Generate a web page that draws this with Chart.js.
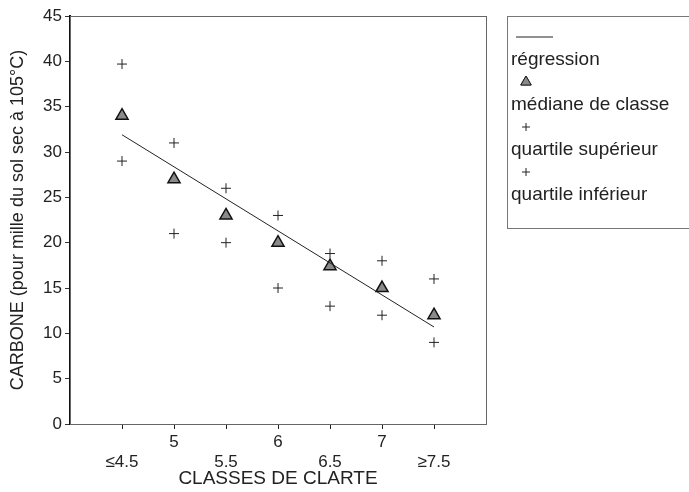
<!DOCTYPE html>
<html>
<head>
<meta charset="utf-8">
<script src="https://cdn.jsdelivr.net/npm/chart.js@4"></script>
<style>
  html, body { margin: 0; padding: 0; background: #fff; }
  #wrap { width: 689px; height: 492px; }
</style>
</head>
<body>
<div id="wrap"><canvas id="myChart" width="689" height="492"></canvas></div>
<script>
// classes de clarte (x) and values
const classes = [4.5, 5, 5.5, 6, 6.5, 7, 7.5];
const classLabels = ["≤4.5", "5", "5.5", "6", "6.5", "7", "≥7.5"];
const medianes = [34, 27, 23, 20, 17.4, 15, 12];
const quartileSup = [39.7, 31, 26, 23, 18.8, 18, 16];
const quartileInf = [29, 21, 20, 15, 13, 12, 9];
const regressionX = [4.5, 7.5];
const regressionY = [31.9, 10.7];
const yTicks = [0, 5, 10, 15, 20, 25, 30, 35, 40, 45];

const FONT = "'Liberation Sans', Arial, sans-serif";

function toPoints(xs, ys) {
  return xs.map((x, i) => ({ x: x, y: ys[i] }));
}

//frame around the plot area
const plotFrame = {
  id: "plotFrame",
  afterDraw(chart) {
    const { ctx, chartArea } = chart;
    ctx.save();
    ctx.strokeStyle = "#666";
    ctx.lineWidth = 1;
    ctx.strokeRect(chartArea.left + 0.5, chartArea.top + 0.5,
      chartArea.right - chartArea.left, chartArea.bottom - chartArea.top);
    ctx.restore();
  },
};

//legend box on the right, symbol above its label
const sideLegend = {
  id: "sideLegend",
  afterDraw(chart) {
    const { ctx } = chart;
    const left = 507, top = 16;
    ctx.save();
    ctx.strokeStyle = "#777";
    ctx.lineWidth = 1;
    ctx.strokeRect(left + 0.5, top + 0.5, 200, 212);
    ctx.font = "19px " + FONT;
    ctx.fillStyle = "#222";
    ctx.textBaseline = "middle";
    chart.data.datasets.forEach((ds, i) => {
      const symY = top + 21 + i * 45;
      const txtY = symY + 23;
      ctx.strokeStyle = "#222";
      ctx.lineWidth = 1;
      if (ds.type === "line") {
        ctx.beginPath();
        ctx.moveTo(left + 9, symY);
        ctx.lineTo(left + 46, symY);
        ctx.stroke();
      } else {
        Chart.helpers.drawPoint(ctx, {
          pointStyle: ds.pointStyle,
          radius: ds.pointStyle === "triangle" ? 6 : 4,
          borderWidth: 1,
        }, left + 19, symY);
        if (ds.pointStyle === "triangle") {
          ctx.fillStyle = ds.backgroundColor;
          ctx.fill();
          ctx.stroke();
          ctx.fillStyle = "#222";
        }
      }
      ctx.fillText(ds.label, left + 4, txtY);
    });
    ctx.restore();
  },
};

var ctx = document.getElementById("myChart").getContext("2d");

var chart = new Chart(ctx, {
  type: "scatter",
  data: {
    datasets: [
      {
        type: "line",
        label: "régression",
        data: toPoints(regressionX, regressionY),
        borderColor: "#222",
        borderWidth: 1,
        pointRadius: 0,
        fill: false,
      },
      {
        label: "médiane de classe",
        data: toPoints(classes, medianes),
        pointStyle: "triangle",
        pointRadius: 7,
        backgroundColor: "#8a8a8a",
        borderColor: "#111",
        borderWidth: 1.5,
      },
      {
        label: "quartile supérieur",
        data: toPoints(classes, quartileSup),
        pointStyle: "cross",
        pointRadius: 5,
        borderColor: "#222",
        borderWidth: 1,
      },
      {
        label: "quartile inférieur",
        data: toPoints(classes, quartileInf),
        pointStyle: "cross",
        pointRadius: 5,
        borderColor: "#222",
        borderWidth: 1,
      },
    ],
  },
  options: {
    responsive: false,
    animation: false,
    layout: {
      padding: { top: 16, right: 203, left: 0, bottom: 0 },
    },
    plugins: {
      legend: { display: false },
      tooltip: { enabled: false },
    },
    scales: {
      x: {
        type: "linear",
        min: 4,
        max: 8,
        afterBuildTicks(scale) {
          scale.ticks = classes.map((v) => ({ value: v }));
        },
        afterFit(scale) {
          scale.height = 68;
        },
        grid: {
          drawOnChartArea: false,
          tickLength: 5,
          color: "#222",
        },
        border: { color: "#444" },
        ticks: {
          color: "#222",
          font: { family: FONT, size: 17, lineHeight: 1.15 },
          padding: 4,
          maxRotation: 0,
          autoSkip: false,
          callback(value) {
            const i = classes.indexOf(value);
            if (i < 0) return "";
            // whole numbers on the first row, the others one row lower
            return Number.isInteger(value) ? classLabels[i] : ["", classLabels[i]];
          },
        },
        title: {
          display: true,
          text: "CLASSES DE CLARTE",
          color: "#222",
          font: { family: FONT, size: 19 },
          padding: { top: 0, bottom: 2 },
        },
      },
      y: {
        min: 0,
        max: 45,
        afterBuildTicks(scale) {
          scale.ticks = yTicks.map((v) => ({ value: v }));
        },
        afterFit(scale) {
          scale.width = 70;
        },
        grid: {
          drawOnChartArea: false,
          tickLength: 5,
          color: "#333",
        },
        border: { color: "#111", width: 2 },
        ticks: {
          color: "#222",
          font: { family: FONT, size: 17 },
          padding: 3,
        },
        title: {
          display: true,
          text: "CARBONE (pour mille du sol sec à 105°C)",
          color: "#222",
          font: { family: FONT, size: 18 },
          padding: { top: 7, bottom: 0 },
        },
      },
    },
  },
  plugins: [plotFrame, sideLegend],
});
</script>
</body>
</html>
